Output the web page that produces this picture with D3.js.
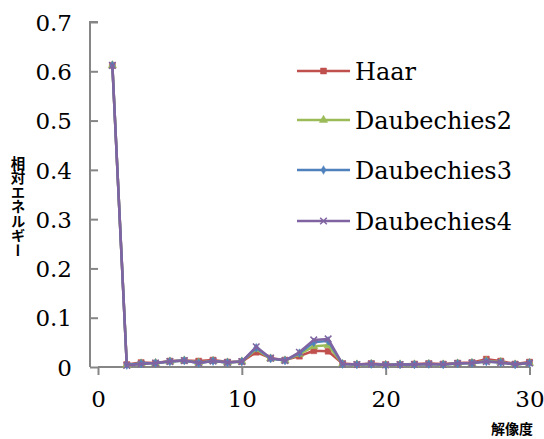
<!DOCTYPE html>
<html><head><meta charset="utf-8">
<script src="https://cdn.jsdelivr.net/npm/d3@7"></script>
<style>body{margin:0;background:#fff}svg{display:block}</style>
</head><body>
<script>
const resolutions = d3.range(1, 31);
const seriesNames = ["Haar", "Daubechies2", "Daubechies3", "Daubechies4"];
const haar = [0.612,0.005,0.009,0.008,0.012,0.013,0.012,0.014,0.010,0.011,0.030,0.018,0.014,0.022,0.033,0.032,0.007,0.005,0.007,0.005,0.005,0.006,0.007,0.006,0.008,0.009,0.016,0.012,0.006,0.010];
const daub2 = [0.612,0.004,0.007,0.008,0.011,0.013,0.009,0.012,0.009,0.011,0.036,0.017,0.013,0.026,0.042,0.044,0.006,0.005,0.006,0.004,0.005,0.005,0.006,0.005,0.007,0.008,0.012,0.010,0.005,0.008];
const daub3 = [0.612,0.004,0.007,0.008,0.011,0.013,0.008,0.012,0.009,0.011,0.039,0.017,0.013,0.028,0.050,0.053,0.006,0.005,0.006,0.004,0.005,0.005,0.006,0.005,0.007,0.008,0.011,0.009,0.005,0.008];
const daub4 = [0.612,0.003,0.006,0.008,0.011,0.013,0.008,0.012,0.009,0.011,0.041,0.018,0.013,0.030,0.055,0.057,0.006,0.005,0.006,0.004,0.005,0.005,0.006,0.005,0.007,0.008,0.011,0.009,0.005,0.008];
const yTicks = [0, 0.1, 0.2, 0.3, 0.4, 0.5, 0.6, 0.7];
const xTicks = [0, 10, 20, 30];
const colors = ["#C0504D", "#9BBB59", "#4F81BD", "#8064A2"];
const symbols = ["square", "triangle", "diamond", "cross"];
const allValues = [haar, daub2, daub3, daub4];

const W = 544, H = 439;
const svg = d3.select("body").append("svg").attr("width", W).attr("height", H);
const x = d3.scaleLinear().domain([0, 30]).range([98, 529.5]);
const y = d3.scaleLinear().domain([0, 0.7]).range([367, 22]);
const axisColor = "#868686";
const tickFont = "'DejaVu Serif', serif";

const yAxis = svg.append("g").attr("transform", `translate(${x(0)},0)`)
  .call(d3.axisLeft(y).tickValues(yTicks).tickSize(8).tickPadding(18)
    .tickFormat(d => d === 0 ? "0" : d3.format(".1f")(d)));
const xAxis = svg.append("g").attr("transform", `translate(0,${y(0)})`)
  .call(d3.axisBottom(x).tickValues(xTicks).tickSize(8).tickPadding(16).tickFormat(d3.format("d")));
[yAxis, xAxis].forEach(g => {
  g.select(".domain").attr("stroke", axisColor).attr("stroke-width", 2);
  g.selectAll(".tick line").attr("stroke", axisColor).attr("stroke-width", 2);
  g.selectAll(".tick text").attr("fill", "#000").style("font-family", tickFont).style("font-size", "23px");
});
yAxis.select(".domain").attr("d", `M0,${y(0.7)}H-8V${y(0)}`);
xAxis.select(".domain").attr("d", `M${x(0)},0H${x(30)}`);
xAxis.selectAll(".tick text").attr("dy", "0.71em");
yAxis.selectAll(".tick text").attr("dy", "0.36em");

const line = d3.line().x((d, i) => x(resolutions[i])).y(d => y(d));
const symTypes = { square: d3.symbolSquare, triangle: d3.symbolTriangle, diamond: d3.symbolDiamond, cross: d3.symbolX };
const symSizes = { square: 36, triangle: 30, diamond: 22, cross: 30 };
allValues.forEach((vals, k) => {
  const g = svg.append("g");
  g.append("path").datum(vals).attr("d", line).attr("fill", "none")
    .attr("stroke", colors[k]).attr("stroke-width", 2.5).attr("stroke-linejoin", "round");
  g.selectAll("path.m").data(vals).join("path").attr("class", "m")
    .attr("transform", (d, i) => `translate(${x(resolutions[i])},${y(d)})`)
    .attr("d", d3.symbol().type(symTypes[symbols[k]]).size(symSizes[symbols[k]]))
    .attr("fill", colors[k]).attr("stroke", colors[k]).attr("stroke-width", symbols[k] === "cross" ? 1.5 : 0.5);
});

const legY = [71, 120, 170, 221];
seriesNames.forEach((name, k) => {
  const g = svg.append("g").attr("transform", `translate(297,${legY[k]})`);
  g.append("line").attr("x1", 0).attr("x2", 53).attr("y1", 0).attr("y2", 0)
    .attr("stroke", colors[k]).attr("stroke-width", 2.5);
  g.append("path").attr("transform", "translate(26.5,0)")
    .attr("d", d3.symbol().type(symTypes[symbols[k]]).size(symSizes[symbols[k]]))
    .attr("fill", colors[k]).attr("stroke", colors[k]).attr("stroke-width", symbols[k] === "cross" ? 1.5 : 0.5);
  g.append("text").attr("x", 58).attr("y", 0).attr("dy", "0.36em")
    .style("font-family", tickFont).style("font-size", "24px").attr("fill", "#000").text(name);
});

svg.append("text").attr("x", 18).attr("y", 156)
  .style("writing-mode", "vertical-rl").style("font-family", "'Noto Sans CJK JP', sans-serif")
  .style("font-weight", "bold").style("font-size", "14.5px").attr("fill", "#000")
  .text("相対エネルギー");
svg.append("text").attr("x", 533).attr("y", 434).attr("text-anchor", "end")
  .style("font-family", "'Noto Sans CJK JP', sans-serif")
  .style("font-weight", "bold").style("font-size", "14px").attr("fill", "#000")
  .text("解像度");
</script>
</body></html>
